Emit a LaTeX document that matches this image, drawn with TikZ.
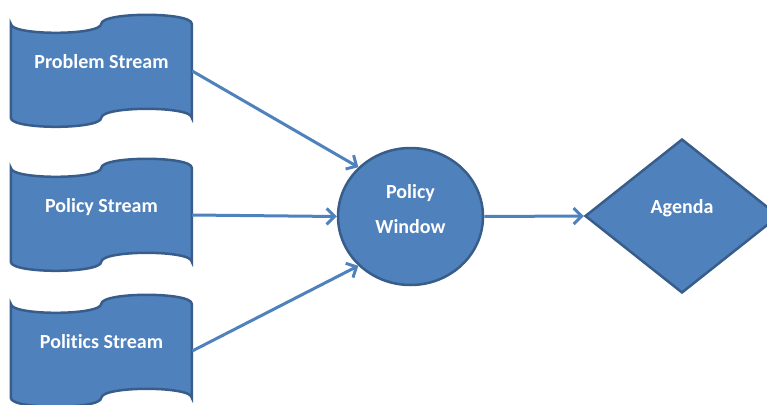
\documentclass[tikz,border=0pt]{standalone}
\usepackage{fontspec}
\setmainfont[Ligatures=NoCommon]{Carlito}
\usetikzlibrary{shapes.geometric,arrows.meta,backgrounds}
\definecolor{boxblue}{HTML}{4F81BD}
\definecolor{boxedge}{HTML}{385D8A}
\tikzset{
  solidshape/.style={draw=boxedge, fill=boxblue, line width=2.5pt, inner sep=0pt,
    text=white, font=\bfseries\fontsize{20}{35}\selectfont},
  stream/.style={minimum width=181pt, minimum height=94pt, inner sep=0pt,
    text=white, font=\bfseries\fontsize{20}{24}\selectfont,
    text height=12pt, text depth=18pt},
  flow/.style={draw=boxblue, line width=3pt,
    -{Straight Barb[length=8pt,width=16pt]}}
}
\begin{document}
\begin{tikzpicture}[x=1pt, y=-1pt]
\useasboundingbox (0,0) rectangle (767,404);
\node[stream] (problem) at (101.5,71){Problem Stream};
\node[stream] (policy) at (101.5,215){Policy Stream};
\node[stream] (politics) at (101.5,351){Politics Stream};
% wavy outline behind each stream
\foreach \n in {problem,policy,politics}{
  \begin{scope}[on background layer, shift={(\n.north west)}]
  \filldraw[fill=boxblue, draw=boxedge, line width=2.5pt]
    (0,0) .. controls (0,12) and (90,12) .. (90.5,0)
    .. controls (91,-12) and (181,-12) .. (181,0) -- (181,94)
    .. controls (181,82) and (91,82) .. (90.5,94)
    .. controls (90,106) and (0,106) .. (0,94) -- cycle;
  \end{scope}
}
\node[ellipse, solidshape, minimum width=145pt, minimum height=137pt,
  align=center, text depth=15pt] (window) at (410.5,216.5){Policy\\Window};
\node[diamond, solidshape, minimum width=194pt, minimum height=154pt,
  text height=12pt, text depth=18pt] (agenda) at (682,216){Agenda};
\draw[flow] (problem.east) -- (window.north west);
\draw[flow] (policy.east) -- (window.west);
\draw[flow] (politics.east) -- (window.south west);
\draw[flow] (window.east) -- (agenda.west);
\end{tikzpicture}
\end{document}
